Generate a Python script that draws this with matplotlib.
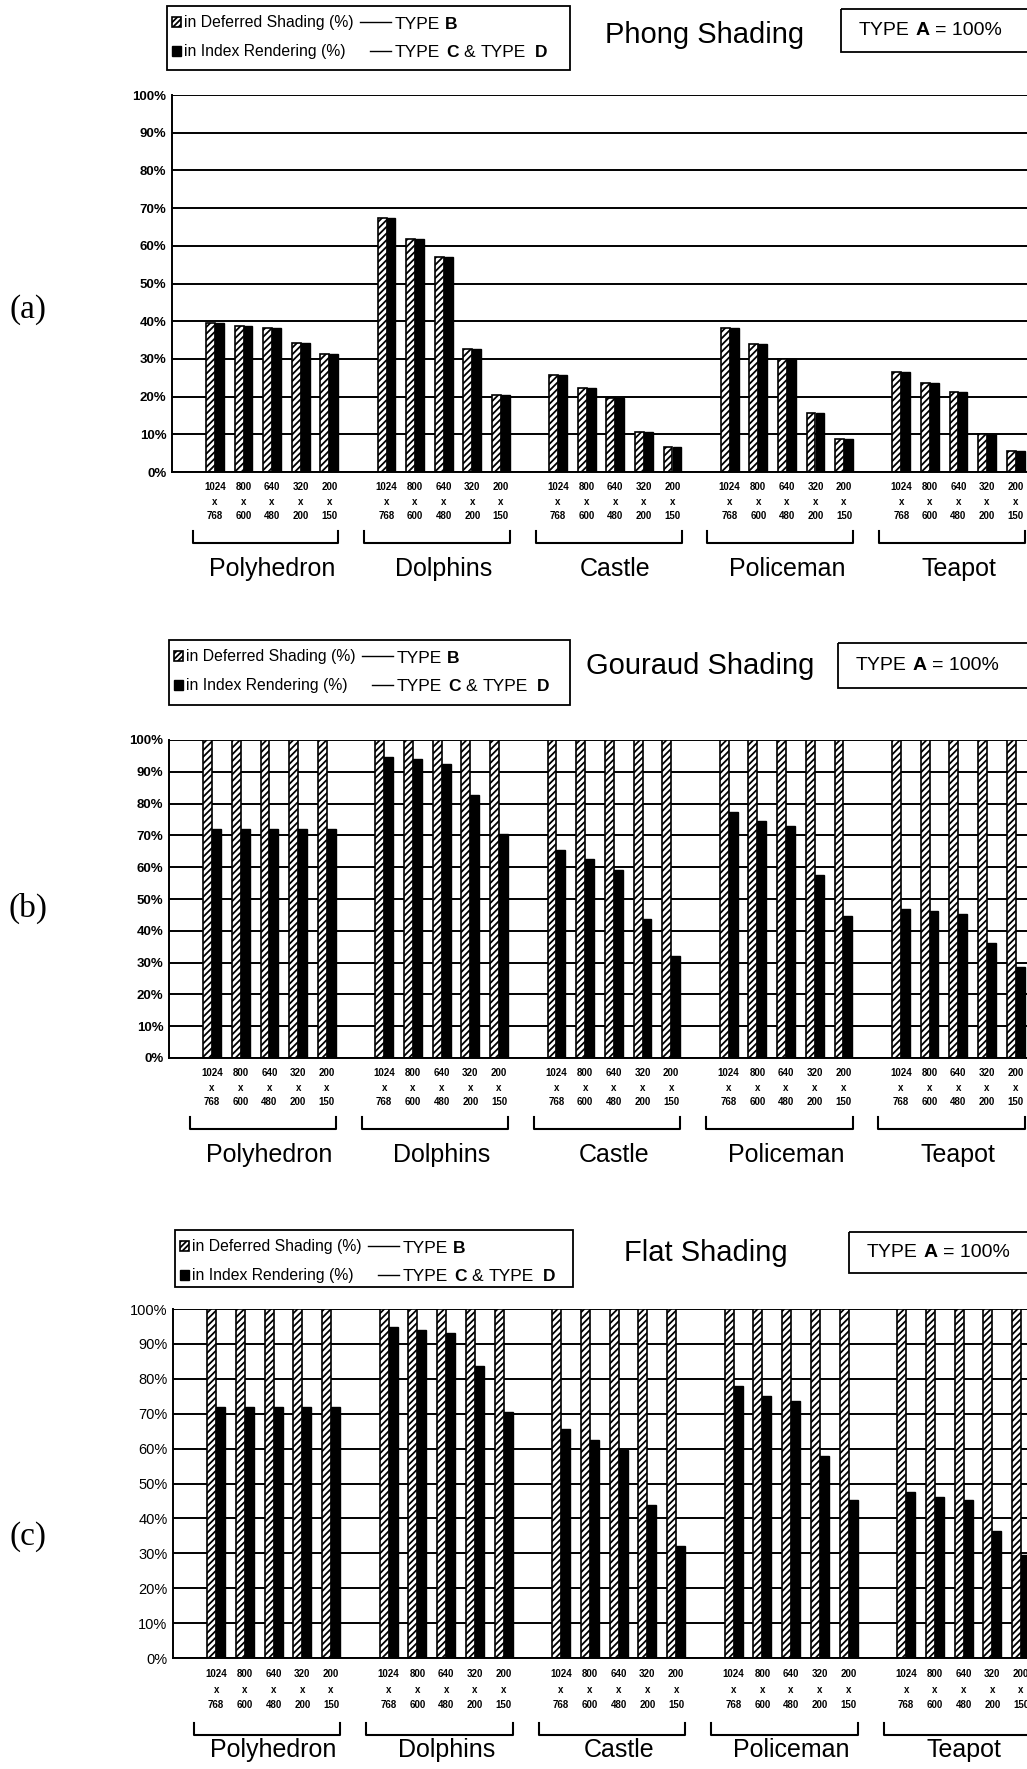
import matplotlib
matplotlib.use('Agg')
import matplotlib.pyplot as plt
from matplotlib.patches import Rectangle
from matplotlib.ticker import MultipleLocator, FuncFormatter
import matplotlib.transforms as mtransforms

plt.rcParams['font.family'] = ['Liberation Sans', 'DejaVu Sans']
plt.rcParams['hatch.linewidth'] = 1.3

models = ['Polyhedron', 'Dolphins', 'Castle', 'Policeman', 'Teapot']
resolutions = ['1024\nx\n768', '800\nx\n600', '640\nx\n480', '320\nx\n200', '200\nx\n150']

# (a) Phong shading: deferred and index bars are the same height
phong_deferred = [39.5, 38.6, 38.3, 34.2, 31.4,
                  67.3, 61.8, 56.9, 32.6, 20.5,
                  25.6, 22.3, 19.6, 10.6, 6.5,
                  38.2, 34.0, 29.9, 15.7, 8.8,
                  26.4, 23.5, 21.1, 10.2, 5.7]
phong_index = [39.5, 38.6, 38.3, 34.2, 31.4,
               67.3, 61.8, 56.9, 32.6, 20.5,
               25.6, 22.3, 19.6, 10.6, 6.5,
               38.2, 34.0, 29.9, 15.7, 8.8,
               26.4, 23.5, 21.1, 10.2, 5.7]

# (b) Gouraud shading
gouraud_deferred = [100] * 25
gouraud_index = [72, 72, 72, 72, 72,
                 94.6, 93.9, 92.6, 82.8, 70.4,
                 65.4, 62.5, 59.2, 43.8, 32.1,
                 77.5, 74.6, 73.1, 57.7, 44.6,
                 47.0, 46.2, 45.2, 36.3, 28.7]

# (c) Flat shading
flat_deferred = [100] * 25
flat_index = [72, 72, 72, 72, 72,
              94.7, 94.1, 93.1, 83.6, 70.4,
              65.6, 62.6, 59.5, 43.9, 32.2,
              77.8, 75.2, 73.7, 58.0, 45.4,
              47.6, 46.2, 45.3, 36.5, 29.6]

W, H = 1027, 1769
fig = plt.figure(figsize=(W / 100, H / 100), dpi=100)


def px_axes(left, top, right, bottom):
    return fig.add_axes([left / W, 1 - bottom / H, (right - left) / W, (bottom - top) / H])


def panel(top, bottom, left, slot, deferred, index, ybold, ysize, xpad, lsp, brk, lab_y):
    ax = px_axes(left, top, left + 31 * slot, bottom)
    hgt = bottom - top
    xs = [1 + 6 * g + r + 0.5 for g in range(len(models)) for r in range(len(resolutions))]
    w = 0.31
    ax.bar([x - w / 2 for x in xs], deferred, w, color='white', edgecolor='black',
           hatch='/////', linewidth=1.2, zorder=2)
    ax.bar([x + w / 2 for x in xs], index, w, color='black', edgecolor='black', zorder=2)
    ax.set_xlim(0, 31)
    ax.set_ylim(0, 100)
    ax.yaxis.set_major_locator(MultipleLocator(10))
    ax.yaxis.set_major_formatter(FuncFormatter(lambda v, p: f'{v:.0f}%'))
    ax.grid(axis='y', color='black', linewidth=1.4, zorder=0)
    ax.set_axisbelow(True)
    for s in ['top', 'right']:
        ax.spines[s].set_visible(False)
    for s in ['left', 'bottom']:
        ax.spines[s].set_linewidth(1.4)
    ax.tick_params(axis='y', length=0, pad=4, labelsize=ysize)
    for t in ax.get_yticklabels():
        t.set_fontweight('bold' if ybold else 'normal')
    ax.set_xticks(xs, resolutions * len(models))
    ax.tick_params(axis='x', length=0, pad=xpad, labelsize=7)
    for t in ax.get_xticklabels():
        t.set_fontweight('bold')
        t.set_linespacing(lsp)

    trans = mtransforms.blended_transform_factory(ax.transData, ax.transAxes)
    for g, name in enumerate(models):
        x0, x1 = 6 * g + 0.72, 6 * g + 5.82
        ya, yb = -brk / hgt, -(brk + 12) / hgt
        ax.plot([x0, x0, x1, x1], [ya, yb, yb, ya], color='black', lw=1.5,
                transform=trans, clip_on=False)
        ax.text(6 * g + 3.5, -lab_y / hgt, name, transform=trans, ha='center',
                va='center', fontsize=18)
    return ax


panel(95, 472, 172, 28.6, phong_deferred, phong_index, True, 9.5, 7, 1.6, 59, 97)
panel(740, 1058, 169, 28.7, gouraud_deferred, gouraud_index, True, 9.5, 7, 1.6, 59, 97)
panel(1309, 1658, 173, 28.75, flat_deferred, flat_index, False, 10.5, 8, 1.7, 65, 92)

ov = fig.add_axes([0, 0, 1, 1])
ov.set_xlim(0, W)
ov.set_ylim(H, 0)
ov.axis('off')


def chain(parts, x, y, size):
    t = ov.text(x, y, parts[0][0], fontsize=size, va='center', fontweight=parts[0][1])
    for txt, wt, gap in parts[1:]:
        t = ov.annotate(txt, xy=(1, 0), xycoords=t, va='bottom', fontsize=size,
                        fontweight=wt, xytext=(gap, 0), textcoords='offset points')
    return t


def header(bx0, by0, bx1, by1, title, tx, ty, ax0, ay0, ay1):
    ov.add_patch(Rectangle((bx0, by0), bx1 - bx0, by1 - by0, fill=False, ec='black', lw=1.3))
    l1, l2 = by0 + 16, by0 + 45
    ov.add_patch(Rectangle((bx0 + 5, l1 - 5), 9, 10, fc='white', ec='black',
                           hatch='//////', lw=1.2))
    ov.add_patch(Rectangle((bx0 + 5, l2 - 5), 9, 10, fc='black', ec='black', lw=1))
    ov.text(bx0 + 17, l1, 'in Deferred Shading (%)', fontsize=11.3, va='center')
    ov.text(bx0 + 17, l2, 'in Index Rendering (%)', fontsize=11.3, va='center')
    ov.plot([bx0 + 193, bx0 + 224], [l1, l1], color='black', lw=1)
    ov.plot([bx0 + 203, bx0 + 224], [l2, l2], color='black', lw=1)
    chain([('TYPE', 'normal'), ('B', 'bold', 3)], bx0 + 228, l1 + 2, 12.5)
    chain([('TYPE', 'normal'), ('C', 'bold', 4), ('&', 'normal', 4), ('TYPE', 'normal', 4),
           ('D', 'bold', 6)], bx0 + 228, l2 + 1, 12.5)
    ov.text(tx, ty, title, fontsize=21, ha='center', va='center')
    ov.add_patch(Rectangle((ax0, ay0), 220, ay1 - ay0, fill=False, ec='black', lw=1.3))
    chain([('TYPE', 'normal'), ('A', 'bold', 4), ('= 100%', 'normal', 4)], ax0 + 18,
          (ay0 + ay1) / 2, 14)


header(167, 6, 570, 70, 'Phong Shading', 705, 35, 841, 9, 52)
header(169, 640, 570, 705, 'Gouraud Shading', 700, 666, 838, 643, 688)
header(175, 1230, 573, 1287, 'Flat Shading', 706, 1253, 849, 1232, 1273)

for lab, y in [('(a)', 310), ('(b)', 908), ('(c)', 1537)]:
    ov.text(28, y, lab, fontsize=24, ha='center', va='center', family='Liberation Serif')

fig.savefig('out.png', dpi=100)
